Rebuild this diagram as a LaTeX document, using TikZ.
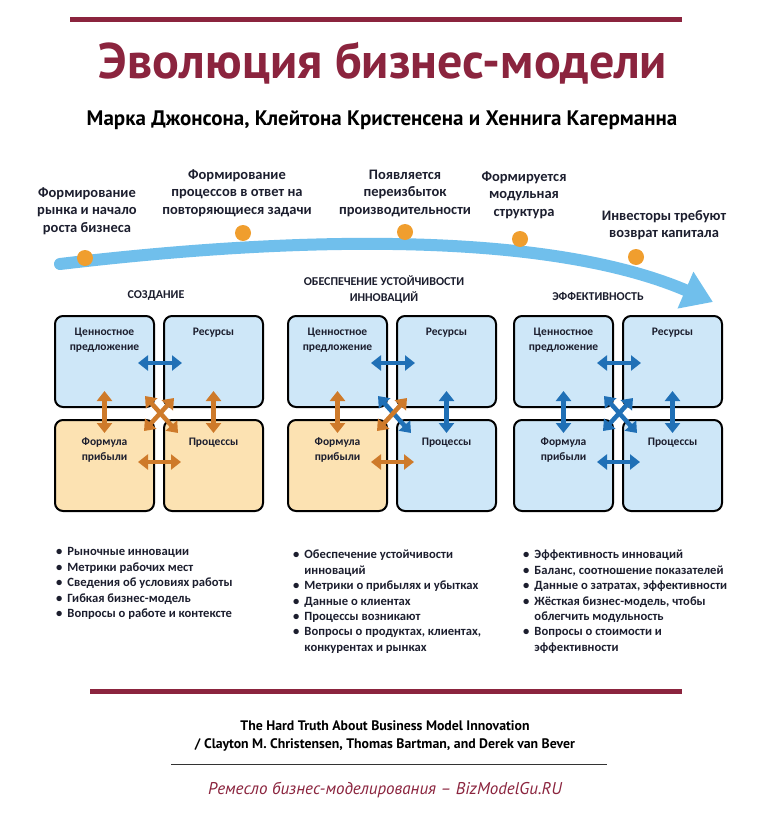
\documentclass[tikz,border=0pt]{standalone}
\usepackage{fontspec}
\setmainfont{Carlito}
\newfontfamily\ptsans{PT Sans}
\usetikzlibrary{positioning,arrows.meta}

\definecolor{maroon}{RGB}{139,36,62}
\definecolor{bandblue}{RGB}{112,191,236}
\definecolor{dotorange}{RGB}{240,158,46}
\definecolor{boxblue}{RGB}{206,231,248}
\definecolor{boxorange}{RGB}{252,226,178}
\definecolor{arrblue}{RGB}{32,112,182}
\definecolor{arrorange}{RGB}{206,122,42}
\definecolor{inkdark}{RGB}{28,30,46}

\begin{document}
\begin{tikzpicture}[x=1pt, y=-1pt,
    every node/.style={inner sep=0pt, text=inkdark},
    stage/.style={align=center, font=\bfseries\fontsize{14.5}{17.5}\selectfont},
    phase/.style={align=center, font=\bfseries\fontsize{12}{16}\selectfont},
    milestone/.style={circle, fill=dotorange, minimum size=16pt},
    bluebox/.style={draw=black, line width=2pt, rounded corners=8pt, fill=boxblue, minimum width=99pt, minimum height=91pt},
    orangebox/.style={bluebox, fill=boxorange},
    boxtext/.style={align=center, font=\bfseries\fontsize{11.5}{15}\selectfont},
    link/.style={<->, line width=4.5pt, >={Triangle[length=10pt,width=15pt]}},
    bluelink/.style={link, arrblue},
    orangelink/.style={link, arrorange},
    bullets/.style={anchor=north west, font=\bfseries\fontsize{12.6}{15.4}\selectfont}]

    \fill[white] (0,0) rectangle (768,816);
    \useasboundingbox (0,0) rectangle (768,816);

    % header
    \draw[maroon, line width=5pt] (70,20) -- (682,20);
    \node[text=maroon, font=\ptsans\bfseries\fontsize{50}{60}\selectfont] (title) at (383,63) {Эволюция бизнес-модели};
    \node[font=\ptsans\bfseries\fontsize{21}{24}\selectfont, text=black] (authors) at (382,120) {Марка Джонсона, Клейтона Кристенсена и Хеннига Кагерманна};

    % timeline
    \coordinate (bandstart) at (60,264);
    \coordinate (bandend) at (713,302);
    \draw[bandblue, line width=12pt, line cap=round, -{Triangle[length=30pt,width=38pt]}] (bandstart) .. controls (330,232) and (560,236) .. (bandend);

    \node[milestone] (m1) at (85,258) {};
    \node[milestone] (m2) at (243,233) {};
    \node[milestone] (m3) at (405,232) {};
    \node[milestone] (m4) at (520,239) {};
    \node[milestone] (m5) at (636,257) {};

    \node[stage] (s1) at (87,211) {Формирование\\рынка и начало\\роста бизнеса};
    \node[stage] (s2) at (237,193) {Формирование\\процессов в ответ на\\повторяющиеся задачи};
    \node[stage] (s3) at (405,193) {Появляется\\переизбыток\\производительности};
    \node[stage] (s4) at (524,195) {Формируется\\модульная\\структура};
    \node[stage] (s5) at (664,225) {Инвесторы требуют\\возврат капитала};

    \node[phase] (p1) at (156,295) {СОЗДАНИЕ};
    \node[phase] (p2) at (384,290) {ОБЕСПЕЧЕНИЕ УСТОЙЧИВОСТИ\\ИННОВАЦИЙ};
    \node[phase] (p3) at (598,296) {ЭФФЕКТИВНОСТЬ};

    % creation
    \node[bluebox] (vp1) at (104.5,361.5) {};
    \node[bluebox, right=8pt of vp1] (rs1) {};
    \node[orangebox, below=11pt of vp1] (fm1) {};
    \node[orangebox, below=11pt of rs1] (pr1) {};
    \node[boxtext, below=13pt of vp1.north] (vp1t) {Ценностное\\предложение};
    \node[boxtext, below=13pt of rs1.north] (rs1t) {Ресурсы};
    \node[boxtext, below=19pt of fm1.north] (fm1t) {Формула\\прибыли};
    \node[boxtext, below=19pt of pr1.north] (pr1t) {Процессы};
    \draw[bluelink] ([shift={(-17pt,-1.5pt)}]vp1.east) -- ([shift={(19pt,-1.5pt)}]rs1.west);
    \draw[orangelink] ([shift={(-17pt,3.5pt)}]fm1.east) -- ([shift={(18pt,3.5pt)}]pr1.west);
    \draw[orangelink] ([yshift=17pt]vp1.south) -- ([yshift=-14pt]fm1.north);
    \draw[orangelink] ([yshift=17pt]rs1.south) -- ([yshift=-14pt]pr1.north);
    \draw[orangelink] ([shift={(-10pt,12pt)}]vp1.south east) -- ([shift={(15pt,-14pt)}]pr1.north west);
    \draw[orangelink] ([shift={(11pt,10pt)}]rs1.south west) -- ([shift={(-11pt,-12pt)}]fm1.north east);

    % sustaining
    \node[bluebox] (vp2) at (337.5,361.5) {};
    \node[bluebox, right=8pt of vp2] (rs2) {};
    \node[orangebox, below=11pt of vp2] (fm2) {};
    \node[bluebox, below=11pt of rs2] (pr2) {};
    \node[boxtext, below=13pt of vp2.north] (vp2t) {Ценностное\\предложение};
    \node[boxtext, below=13pt of rs2.north] (rs2t) {Ресурсы};
    \node[boxtext, below=19pt of fm2.north] (fm2t) {Формула\\прибыли};
    \node[boxtext, below=19pt of pr2.north] (pr2t) {Процессы};
    \draw[bluelink] ([shift={(-17pt,-1.5pt)}]vp2.east) -- ([shift={(19pt,-1.5pt)}]rs2.west);
    \draw[orangelink] ([shift={(-17pt,3.5pt)}]fm2.east) -- ([shift={(18pt,3.5pt)}]pr2.west);
    \draw[orangelink] ([yshift=17pt]vp2.south) -- ([yshift=-14pt]fm2.north);
    \draw[bluelink] ([yshift=17pt]rs2.south) -- ([yshift=-14pt]pr2.north);
    \draw[bluelink] ([shift={(-10pt,12pt)}]vp2.south east) -- ([shift={(15pt,-14pt)}]pr2.north west);
    \draw[orangelink] ([shift={(11pt,10pt)}]rs2.south west) -- ([shift={(-11pt,-12pt)}]fm2.north east);

    % efficiency
    \node[bluebox] (vp3) at (563.5,361.5) {};
    \node[bluebox, right=8pt of vp3] (rs3) {};
    \node[bluebox, below=11pt of vp3] (fm3) {};
    \node[bluebox, below=11pt of rs3] (pr3) {};
    \node[boxtext, below=13pt of vp3.north] (vp3t) {Ценностное\\предложение};
    \node[boxtext, below=13pt of rs3.north] (rs3t) {Ресурсы};
    \node[boxtext, below=19pt of fm3.north] (fm3t) {Формула\\прибыли};
    \node[boxtext, below=19pt of pr3.north] (pr3t) {Процессы};
    \draw[bluelink] ([shift={(-17pt,-1.5pt)}]vp3.east) -- ([shift={(19pt,-1.5pt)}]rs3.west);
    \draw[bluelink] ([shift={(-17pt,3.5pt)}]fm3.east) -- ([shift={(18pt,3.5pt)}]pr3.west);
    \draw[bluelink] ([yshift=17pt]vp3.south) -- ([yshift=-14pt]fm3.north);
    \draw[bluelink] ([yshift=17pt]rs3.south) -- ([yshift=-14pt]pr3.north);
    \draw[bluelink] ([shift={(-10pt,12pt)}]vp3.south east) -- ([shift={(15pt,-14pt)}]pr3.north west);
    \draw[bluelink] ([shift={(11pt,10pt)}]rs3.south west) -- ([shift={(-11pt,-12pt)}]fm3.north east);

    % bullet lists
    \node[bullets] (list1) at (56,545) {\begin{tabular}{@{}l@{\hspace{5pt}}l@{}}
        • & Рыночные инновации\\
        • & Метрики рабочих мест\\
        • & Сведения об условиях работы\\
        • & Гибкая бизнес-модель\\
        • & Вопросы о работе и контексте
    \end{tabular}};
    \node[bullets] (list2) at (293,548) {\begin{tabular}{@{}l@{\hspace{5pt}}l@{}}
        • & Обеспечение устойчивости\\
          & инноваций\\
        • & Метрики о прибылях и убытках\\
        • & Данные о клиентах\\
        • & Процессы возникают\\
        • & Вопросы о продуктах, клиентах,\\
          & конкурентах и рынках
    \end{tabular}};
    \node[bullets] (list3) at (523,548) {\begin{tabular}{@{}l@{\hspace{5pt}}l@{}}
        • & Эффективность инноваций\\
        • & Баланс, соотношение показателей\\
        • & Данные о затратах, эффективности\\
        • & Жёсткая бизнес-модель, чтобы\\
          & облегчить модульность\\
        • & Вопросы о стоимости и\\
          & эффективности
    \end{tabular}};

    % footer
    \draw[maroon, line width=5pt] (90,691) -- (682,691);
    \node[font=\ptsans\bfseries\fontsize{13.8}{18}\selectfont, text=black, align=center] (source) at (385,736) {The Hard Truth About Business Model Innovation\\/ Clayton M. Christensen, Thomas Bartman, and Derek van Bever};
    \draw[black!80, line width=1pt] (171,764) -- (607,764);
    \node[font=\ptsans\itshape\fontsize{17}{20}\selectfont, text=maroon] (site) at (385,790) {Ремесло бизнес-моделирования – BizModelGu.RU};
\end{tikzpicture}
\end{document}
